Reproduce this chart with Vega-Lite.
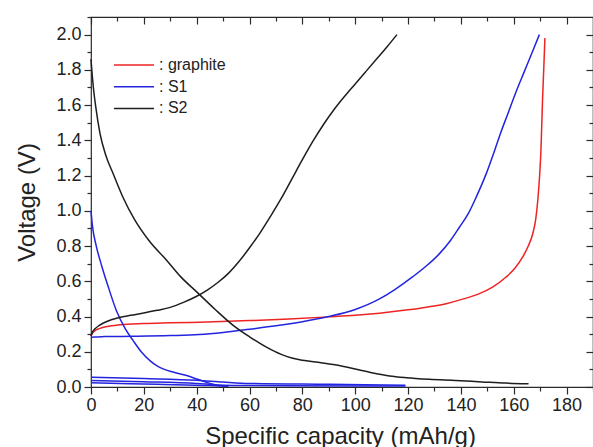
{
  "$schema": "https://vega.github.io/schema/vega-lite/v6.json",
  "width": 502,
  "height": 370,
  "autosize": "none",
  "padding": {"left": 91, "top": 17, "right": 0, "bottom": 60},
  "background": "white",
  "config": {
    "view": {"stroke": "#2b2b2b", "strokeWidth": 1.2},
    "font": "Liberation Sans",
    "axis": {
      "grid": false, "domain": false, "tickColor": "#2b2b2b", "tickWidth": 1.2,
      "labelColor": "#222222", "titleColor": "#222222",
      "labelFont": "Liberation Sans", "titleFont": "Liberation Sans", "titleFontWeight": "normal"
    },
    "legend": {"labelFont": "Liberation Sans"}
  },
  "datasets": {
    "curves": [
      {"s":"graphite","c":"g1","x":0,"v":0.29},{"s":"graphite","c":"g1","x":0.5,"v":0.305},{"s":"graphite","c":"g1","x":1.5,"v":0.32},{"s":"graphite","c":"g1","x":3.4,"v":0.333},{"s":"graphite","c":"g1","x":6,"v":0.343},{"s":"graphite","c":"g1","x":11,"v":0.353},{"s":"graphite","c":"g1","x":20,"v":0.36},{"s":"graphite","c":"g1","x":30,"v":0.364},{"s":"graphite","c":"g1","x":41,"v":0.368},{"s":"graphite","c":"g1","x":60,"v":0.377},{"s":"graphite","c":"g1","x":75,"v":0.386},{"s":"graphite","c":"g1","x":90,"v":0.398},{"s":"graphite","c":"g1","x":100,"v":0.407},{"s":"graphite","c":"g1","x":109.2,"v":0.419},{"s":"graphite","c":"g1","x":120,"v":0.438},{"s":"graphite","c":"g1","x":127,"v":0.453},{"s":"graphite","c":"g1","x":134.4,"v":0.473},{"s":"graphite","c":"g1","x":141,"v":0.5},{"s":"graphite","c":"g1","x":147,"v":0.53},{"s":"graphite","c":"g1","x":152,"v":0.567},{"s":"graphite","c":"g1","x":157.1,"v":0.624},{"s":"graphite","c":"g1","x":160.5,"v":0.675},{"s":"graphite","c":"g1","x":163.4,"v":0.738},{"s":"graphite","c":"g1","x":165.5,"v":0.8},{"s":"graphite","c":"g1","x":167.2,"v":0.87},{"s":"graphite","c":"g1","x":168.3,"v":0.95},{"s":"graphite","c":"g1","x":169.1,"v":1.06},{"s":"graphite","c":"g1","x":169.8,"v":1.2},{"s":"graphite","c":"g1","x":170.3,"v":1.344},{"s":"graphite","c":"g1","x":170.9,"v":1.63},{"s":"graphite","c":"g1","x":171.4,"v":1.82},{"s":"graphite","c":"g1","x":171.8,"v":1.98},

      {"s":"S1","c":"s1c","x":0,"v":0.28},{"s":"S1","c":"s1c","x":1,"v":0.284},{"s":"S1","c":"s1c","x":5,"v":0.286},{"s":"S1","c":"s1c","x":16,"v":0.288},{"s":"S1","c":"s1c","x":30,"v":0.292},{"s":"S1","c":"s1c","x":41,"v":0.298},{"s":"S1","c":"s1c","x":50,"v":0.31},{"s":"S1","c":"s1c","x":60,"v":0.328},{"s":"S1","c":"s1c","x":70,"v":0.347},{"s":"S1","c":"s1c","x":79,"v":0.368},{"s":"S1","c":"s1c","x":90,"v":0.4},{"s":"S1","c":"s1c","x":100,"v":0.44},{"s":"S1","c":"s1c","x":109.2,"v":0.5},{"s":"S1","c":"s1c","x":115,"v":0.553},{"s":"S1","c":"s1c","x":121.8,"v":0.626},{"s":"S1","c":"s1c","x":127,"v":0.688},{"s":"S1","c":"s1c","x":131.9,"v":0.757},{"s":"S1","c":"s1c","x":136,"v":0.83},{"s":"S1","c":"s1c","x":139.5,"v":0.908},{"s":"S1","c":"s1c","x":143,"v":0.99},{"s":"S1","c":"s1c","x":145.8,"v":1.078},{"s":"S1","c":"s1c","x":149.6,"v":1.211},{"s":"S1","c":"s1c","x":152.8,"v":1.344},{"s":"S1","c":"s1c","x":155,"v":1.44},{"s":"S1","c":"s1c","x":158,"v":1.56},{"s":"S1","c":"s1c","x":161,"v":1.68},{"s":"S1","c":"s1c","x":164,"v":1.79},{"s":"S1","c":"s1c","x":167,"v":1.9},{"s":"S1","c":"s1c","x":169.7,"v":2.0},

      {"s":"S1","c":"s1d","x":0,"v":1.0},{"s":"S1","c":"s1d","x":0.5,"v":0.92},{"s":"S1","c":"s1d","x":2,"v":0.8},{"s":"S1","c":"s1d","x":4,"v":0.69},{"s":"S1","c":"s1d","x":6.5,"v":0.57},{"s":"S1","c":"s1d","x":9.7,"v":0.43},{"s":"S1","c":"s1d","x":13,"v":0.33},{"s":"S1","c":"s1d","x":16,"v":0.262},{"s":"S1","c":"s1d","x":19,"v":0.2},{"s":"S1","c":"s1d","x":22.3,"v":0.15},{"s":"S1","c":"s1d","x":25,"v":0.12},{"s":"S1","c":"s1d","x":27.3,"v":0.103},{"s":"S1","c":"s1d","x":31,"v":0.085},{"s":"S1","c":"s1d","x":36.2,"v":0.065},{"s":"S1","c":"s1d","x":40,"v":0.045},{"s":"S1","c":"s1d","x":43.7,"v":0.027},{"s":"S1","c":"s1d","x":46,"v":0.016},{"s":"S1","c":"s1d","x":48.7,"v":0.008},{"s":"S1","c":"s1d","x":52,"v":0.004},

      {"s":"S1","c":"s1e","x":0,"v":0.056},{"s":"S1","c":"s1e","x":20,"v":0.048},{"s":"S1","c":"s1e","x":40,"v":0.038},{"s":"S1","c":"s1e","x":50,"v":0.028},{"s":"S1","c":"s1e","x":60,"v":0.02},{"s":"S1","c":"s1e","x":90,"v":0.015},{"s":"S1","c":"s1e","x":119,"v":0.01},
      {"s":"S1","c":"s1f","x":0,"v":0.037},{"s":"S1","c":"s1f","x":20,"v":0.03},{"s":"S1","c":"s1f","x":40,"v":0.02},{"s":"S1","c":"s1f","x":48,"v":0.012},{"s":"S1","c":"s1f","x":60,"v":0.008},{"s":"S1","c":"s1f","x":100,"v":0.006},{"s":"S1","c":"s1f","x":119,"v":0.005},
      {"s":"S1","c":"s1g","x":0,"v":0.024},{"s":"S1","c":"s1g","x":25,"v":0.015},{"s":"S1","c":"s1g","x":45,"v":0.008},{"s":"S1","c":"s1g","x":52,"v":0.004},

      {"s":"S2","c":"s2c","x":0,"v":0.29},{"s":"S2","c":"s2c","x":0.5,"v":0.31},{"s":"S2","c":"s2c","x":1.5,"v":0.33},{"s":"S2","c":"s2c","x":3,"v":0.348},{"s":"S2","c":"s2c","x":6,"v":0.372},{"s":"S2","c":"s2c","x":10,"v":0.392},{"s":"S2","c":"s2c","x":15,"v":0.407},{"s":"S2","c":"s2c","x":20,"v":0.42},{"s":"S2","c":"s2c","x":25,"v":0.435},{"s":"S2","c":"s2c","x":30,"v":0.452},{"s":"S2","c":"s2c","x":35,"v":0.48},{"s":"S2","c":"s2c","x":40,"v":0.515},{"s":"S2","c":"s2c","x":44,"v":0.55},{"s":"S2","c":"s2c","x":48,"v":0.593},{"s":"S2","c":"s2c","x":52,"v":0.645},{"s":"S2","c":"s2c","x":56,"v":0.712},{"s":"S2","c":"s2c","x":60,"v":0.79},{"s":"S2","c":"s2c","x":64,"v":0.875},{"s":"S2","c":"s2c","x":68,"v":0.97},{"s":"S2","c":"s2c","x":72,"v":1.07},{"s":"S2","c":"s2c","x":76,"v":1.18},{"s":"S2","c":"s2c","x":80,"v":1.29},{"s":"S2","c":"s2c","x":84,"v":1.395},{"s":"S2","c":"s2c","x":88,"v":1.49},{"s":"S2","c":"s2c","x":92,"v":1.575},{"s":"S2","c":"s2c","x":96,"v":1.65},{"s":"S2","c":"s2c","x":100,"v":1.72},{"s":"S2","c":"s2c","x":104,"v":1.79},{"s":"S2","c":"s2c","x":108,"v":1.86},{"s":"S2","c":"s2c","x":112,"v":1.93},{"s":"S2","c":"s2c","x":115.8,"v":2.0},

      {"s":"S2","c":"s2d","x":0,"v":1.86},{"s":"S2","c":"s2d","x":0.3,"v":1.8},{"s":"S2","c":"s2d","x":0.9,"v":1.7},{"s":"S2","c":"s2d","x":1.8,"v":1.59},{"s":"S2","c":"s2d","x":3.4,"v":1.44},{"s":"S2","c":"s2d","x":5.5,"v":1.32},{"s":"S2","c":"s2d","x":8.4,"v":1.21},{"s":"S2","c":"s2d","x":12,"v":1.08},{"s":"S2","c":"s2d","x":16.5,"v":0.95},{"s":"S2","c":"s2d","x":22,"v":0.83},{"s":"S2","c":"s2d","x":28.6,"v":0.72},{"s":"S2","c":"s2d","x":34,"v":0.625},{"s":"S2","c":"s2d","x":40,"v":0.54},{"s":"S2","c":"s2d","x":47,"v":0.44},{"s":"S2","c":"s2d","x":53.8,"v":0.35},{"s":"S2","c":"s2d","x":60,"v":0.285},{"s":"S2","c":"s2d","x":66.4,"v":0.226},{"s":"S2","c":"s2d","x":72,"v":0.185},{"s":"S2","c":"s2d","x":76,"v":0.165},{"s":"S2","c":"s2d","x":79,"v":0.155},{"s":"S2","c":"s2d","x":86,"v":0.14},{"s":"S2","c":"s2d","x":94,"v":0.122},{"s":"S2","c":"s2d","x":100,"v":0.102},{"s":"S2","c":"s2d","x":106.7,"v":0.08},{"s":"S2","c":"s2d","x":113,"v":0.063},{"s":"S2","c":"s2d","x":119.3,"v":0.053},{"s":"S2","c":"s2d","x":128,"v":0.044},{"s":"S2","c":"s2d","x":138,"v":0.037},{"s":"S2","c":"s2d","x":148,"v":0.029},{"s":"S2","c":"s2d","x":157,"v":0.022},{"s":"S2","c":"s2d","x":165.6,"v":0.018}
    ]
  },
  "data": {"name": "curves"},
  "layer": [
    {
      "mark": {"type": "line", "strokeWidth": 1.5, "interpolate": "monotone"},
      "encoding": {
        "x": {"field": "x", "type": "quantitative", "scale": {"domain": [0, 190], "nice": false, "zero": false},
          "axis": {"orient": "bottom", "values": [0,20,40,60,80,100,120,140,160,180], "tickSize": 7, "labelFontSize": 18, "labelPadding": 2, "labelFlush": false, "labelOverlap": false,
            "title": "Specific capacity (mAh/g)", "titleFontSize": 24, "titleX": 249, "titleY": 56, "titleBaseline": "alphabetic", "titleAlign": "center"}},
        "y": {"field": "v", "type": "quantitative", "scale": {"domain": [0, 2.1], "nice": false, "zero": false},
          "axis": {"orient": "left", "values": [0,0.2,0.4,0.6,0.8,1.0,1.2,1.4,1.6,1.8,2.0], "format": ".1f", "tickSize": 7, "labelFontSize": 18, "labelPadding": 3, "labelFlush": false, "labelOverlap": false,
            "title": "Voltage (V)", "titleFontSize": 24, "titleX": -57, "titleY": 185, "titleBaseline": "alphabetic", "titleAlign": "center", "titleAngle": -90}},
        "color": {"field": "s", "type": "nominal",
          "scale": {"domain": ["graphite", "S1", "S2"], "range": ["#ee2424", "#2424e0", "#1e1e1e"]},
          "legend": {"title": null, "orient": "none", "legendX": 22, "legendY": 40, "padding": 0,
            "symbolType": "stroke", "symbolSize": 1600, "symbolStrokeWidth": 1.5, "clipHeight": 16, "rowPadding": 5.7,
            "labelFontSize": 16, "labelColor": "#222222", "labelOffset": 4, "labelExpr": "': ' + datum.label"}},
        "detail": {"field": "c", "type": "nominal"}
      }
    },
    {
      "mark": {"type": "line", "strokeOpacity": 0},
      "encoding": {
        "x": {"field": "x", "type": "quantitative", "scale": {"domain": [0, 190], "nice": false, "zero": false},
          "axis": {"orient": "bottom", "values": [10,30,50,70,90,110,130,150,170,190], "tickSize": 4, "labels": false, "title": null}},
        "y": {"field": "v", "type": "quantitative", "scale": {"domain": [0, 2.1], "nice": false, "zero": false},
          "axis": {"orient": "left", "values": [0.1,0.3,0.5,0.7,0.9,1.1,1.3,1.5,1.7,1.9,2.1], "tickSize": 4, "labels": false, "title": null}},
        "detail": {"field": "c", "type": "nominal"}
      }
    },
    {
      "mark": {"type": "line", "strokeOpacity": 0},
      "encoding": {
        "x": {"field": "x", "type": "quantitative", "scale": {"domain": [0, 190], "nice": false, "zero": false},
          "axis": {"orient": "top", "values": [0,20,40,60,80,100,120,140,160,180], "tickSize": -7, "labels": false, "title": null}},
        "y": {"field": "v", "type": "quantitative", "scale": {"domain": [0, 2.1], "nice": false, "zero": false},
          "axis": {"orient": "right", "values": [0,0.2,0.4,0.6,0.8,1.0,1.2,1.4,1.6,1.8,2.0], "tickSize": -7, "labels": false, "title": null}},
        "detail": {"field": "c", "type": "nominal"}
      }
    },
    {
      "mark": {"type": "line", "strokeOpacity": 0},
      "encoding": {
        "x": {"field": "x", "type": "quantitative", "scale": {"domain": [0, 190], "nice": false, "zero": false},
          "axis": {"orient": "top", "values": [10,30,50,70,90,110,130,150,170], "tickSize": -4, "labels": false, "title": null}},
        "y": {"field": "v", "type": "quantitative", "scale": {"domain": [0, 2.1], "nice": false, "zero": false},
          "axis": {"orient": "right", "values": [0.1,0.3,0.5,0.7,0.9,1.1,1.3,1.5,1.7,1.9], "tickSize": -4, "labels": false, "title": null}},
        "detail": {"field": "c", "type": "nominal"}
      }
    }
  ]
}
